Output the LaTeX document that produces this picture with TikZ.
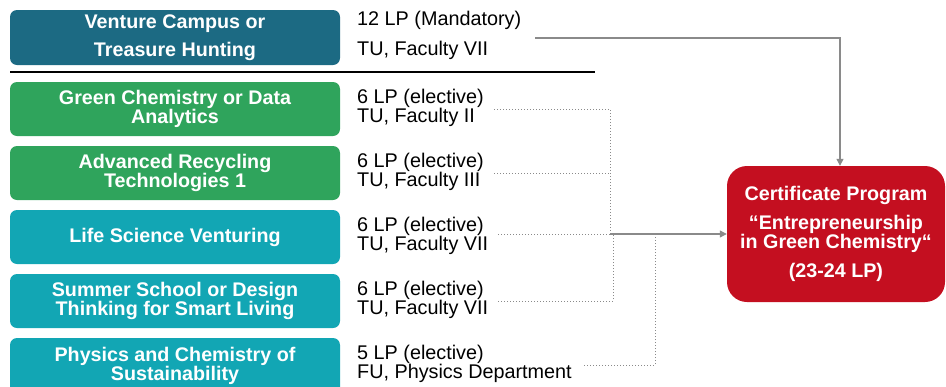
\documentclass[tikz,border=0pt]{standalone}
\usepackage{fontspec}
\setmainfont{Liberation Sans}
\usetikzlibrary{arrows.meta}
\definecolor{dkteal}{HTML}{1C6A83}
\definecolor{mgreen}{HTML}{2FA45C}
\definecolor{mteal}{HTML}{12A6B4}
\definecolor{mred}{HTML}{C40F20}
\definecolor{lgray}{HTML}{8A8A8A}
\begin{document}
\begin{tikzpicture}[x=1pt,y=-1pt,
  box/.style={rounded corners=7pt, minimum width=330pt, minimum height=54pt, text=white,
    font=\fontsize{19.7}{19.5}\selectfont\bfseries, align=center, inner sep=0pt},
  info/.style={anchor=west, font=\fontsize{19.8}{19.5}\selectfont, align=left, inner sep=0pt},
  dotl/.style={draw=lgray, dotted, line width=1pt},
  conn/.style={draw=lgray, line width=1.2pt, -{Triangle[length=7pt,width=7pt]}}]
\useasboundingbox (0,0) rectangle (946,386);
\begin{scope}
\clip (0,0) rectangle (946,386);
% left boxes
\node[box, fill=dkteal, minimum height=55pt] (b1) at (175,37.5) {Venture Campus or\\[8.5pt]Treasure Hunting};
\node[box, fill=mgreen] (b2) at (175,109) {Green Chemistry or Data\\Analytics};
\node[box, fill=mgreen] (b3) at (175,173) {Advanced Recycling\\Technologies 1};
\node[box, fill=mteal] (b4) at (175,237) {Life Science Venturing};
\node[box, fill=mteal] (b5) at (175,301) {Summer School or Design\\Thinking for Smart Living};
\node[box, fill=mteal, minimum height=56pt] (b6) at (175,366) {Physics and Chemistry of\\Sustainability};
% info texts
\node[info] (t1) at (357,35) {12 LP (Mandatory)\\[10.5pt]TU, Faculty VII};
\node[info] (t2) at (357,108) {6 LP (elective)\\TU, Faculty II};
\node[info] (t3) at (357,172) {6 LP (elective)\\TU, Faculty III};
\node[info] (t4) at (357,236) {6 LP (elective)\\TU, Faculty VII};
\node[info] (t5) at (357,300) {6 LP (elective)\\TU, Faculty VII};
\node[info] (t6) at (357,364) {5 LP (elective)\\FU, Physics Department};
% separator
\draw[line width=1.5pt] (10,72) -- (595,72);
% certificate
\node[rounded corners=20pt, fill=mred, minimum width=218pt, minimum height=136pt, inner sep=0pt,
  text=white, font=\fontsize{19.7}{19}\selectfont\bfseries, align=center] (cert) at (836,234)
  {Certificate Program\\[10pt]“Entrepreneurship\\in Green Chemistry“\\[10pt](23-24 LP)};
% connectors
\coordinate (m1) at (535,38);
\coordinate (s2) at (494,109);
\coordinate (s3) at (494,173);
\coordinate (s4) at (498,234);
\coordinate (s5) at (498,301);
\coordinate (s6) at (584,365);
\coordinate (j) at (610,234);
\draw[conn] (m1) -| ([xshift=4pt]cert.north);
\draw[dotl] (s2) -| (j);
\draw[dotl] (s3) -- (s3 -| j);
\draw[dotl] (s4) -- (j);
\draw[dotl] (s5) -| (613,234);
\draw[dotl] (s6) -| (655,234);
\draw[conn] (j) -- (cert.west);
\end{scope}
\end{tikzpicture}
\end{document}
